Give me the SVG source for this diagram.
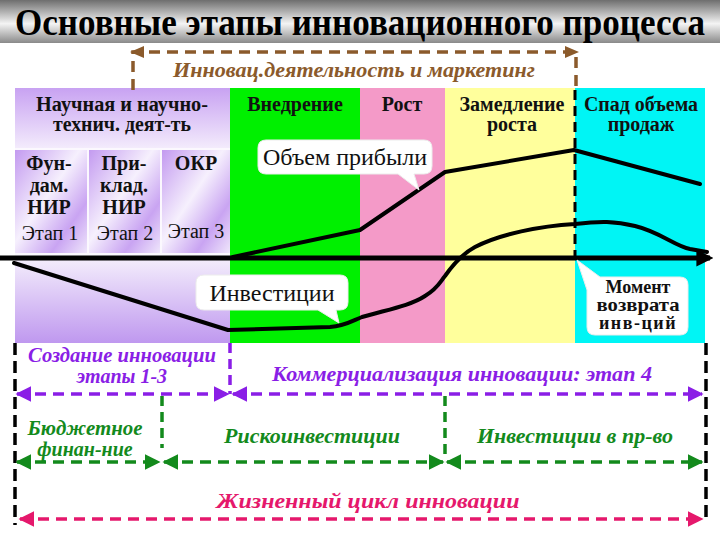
<svg xmlns="http://www.w3.org/2000/svg" width="720" height="540" viewBox="0 0 720 540">
<defs>
<linearGradient id="titleG" x1="0" y1="0" x2="0" y2="1">
<stop offset="0" stop-color="#6e6e6e"/>
<stop offset="0.55" stop-color="#f4f4f4"/>
<stop offset="1" stop-color="#8a8a8a"/>
</linearGradient>
<linearGradient id="purHead" x1="0" y1="0" x2="0" y2="1">
<stop offset="0" stop-color="#c8a2f2"/>
<stop offset="1" stop-color="#f3ebfc"/>
</linearGradient>
<linearGradient id="purLow" x1="0" y1="0" x2="0" y2="1">
<stop offset="0" stop-color="#f4eefc"/>
<stop offset="1" stop-color="#bf98ef"/>
</linearGradient>
<linearGradient id="purBox" x1="0" y1="0" x2="1" y2="1">
<stop offset="0" stop-color="#c39af0"/>
<stop offset="0.45" stop-color="#f6f0fd"/>
<stop offset="0.75" stop-color="#c9a4f2"/>
<stop offset="1" stop-color="#efe6fb"/>
</linearGradient>
<marker id="mPur" viewBox="0 0 10 10" refX="9" refY="5" markerWidth="4.5" markerHeight="4.5" orient="auto-start-reverse"><path d="M0 0L10 5L0 10z" fill="#8a1ee6"/></marker>
<marker id="mGrn" viewBox="0 0 10 10" refX="9" refY="5" markerWidth="4.5" markerHeight="4.5" orient="auto-start-reverse"><path d="M0 0L10 5L0 10z" fill="#138a1c"/></marker>
<marker id="mPink" viewBox="0 0 10 10" refX="9" refY="5" markerWidth="4.5" markerHeight="4.5" orient="auto-start-reverse"><path d="M0 0L10 5L0 10z" fill="#e5186c"/></marker>
<marker id="mBlk" viewBox="0 0 10 10" refX="8" refY="5" markerWidth="3.4" markerHeight="3.4" orient="auto"><path d="M0 0L10 5L0 10z" fill="#000"/></marker>
</defs>
<style>
text{font-family:"Liberation Serif","Times New Roman",serif}
.hd{font-weight:bold;font-size:20px;fill:#111;text-anchor:middle}
.st{font-size:20px;fill:#111;text-anchor:middle}
.bs{font-weight:bold;font-size:20px;fill:#111;text-anchor:middle}
.mo{font-weight:bold;font-size:18px;fill:#111;text-anchor:middle}
.ca{font-size:24px;fill:#111;text-anchor:middle}
.it{font-style:italic;font-weight:bold;font-size:20px;text-anchor:middle}
.call{fill:#fff;stroke:#ececec;stroke-width:1}
.dsh{fill:none;stroke-width:3.5;stroke-dasharray:11 7}
.curve{fill:none;stroke:#000;stroke-width:4;stroke-linejoin:round;stroke-linecap:round}
</style>
<rect width="720" height="540" fill="#fff"/>
<g id="title">
<rect x="0" y="0" width="720" height="43" fill="url(#titleG)"/>
<text transform="translate(360,35) scale(1,1.2)" x="0" y="0" font-weight="bold" font-size="32" text-anchor="middle" textLength="690" lengthAdjust="spacingAndGlyphs" fill="#000">Основные этапы инновационного процесса</text>
</g>
<g id="columns">
<rect x="15" y="88" width="215" height="60" fill="url(#purHead)"/>
<rect x="15" y="148" width="215" height="110" fill="#fbf8fe"/>
<rect x="15" y="150" width="72" height="103" fill="url(#purBox)"/>
<rect x="89" y="150" width="71" height="103" fill="url(#purBox)"/>
<rect x="162" y="150" width="68" height="103" fill="url(#purBox)"/>
<rect x="15" y="258" width="215" height="85" fill="url(#purLow)"/>
<rect x="230" y="88" width="130" height="255" fill="#00f000"/>
<rect x="360" y="88" width="85" height="255" fill="#f49ac8"/>
<rect x="445" y="88" width="130" height="255" fill="#ffff9c"/>
<rect x="575" y="88" width="130" height="255" fill="#00f5f5"/>
</g>
<g id="labels">
<text class="hd" x="122" y="111" textLength="172" lengthAdjust="spacingAndGlyphs">Научная и научно-</text>
<text class="hd" x="122" y="131" textLength="138" lengthAdjust="spacingAndGlyphs">технич. деят-ть</text>
<text class="hd" x="295" y="111">Внедрение</text>
<text class="hd" x="402" y="111">Рост</text>
<text class="hd" x="512" y="111">Замедление</text>
<text class="hd" x="512" y="131">роста</text>
<text class="hd" x="641" y="111" textLength="114" lengthAdjust="spacingAndGlyphs">Спад объема</text>
<text class="hd" x="641" y="131">продаж</text>
<text class="bs" x="49" y="170">Фун-</text>
<text class="bs" x="49" y="192">дам.</text>
<text class="bs" x="49" y="214">НИР</text>
<text class="st" x="50" y="240">Этап 1</text>
<text class="bs" x="124" y="170">При-</text>
<text class="bs" x="124" y="192">клад.</text>
<text class="bs" x="124" y="214">НИР</text>
<text class="st" x="125" y="240">Этап 2</text>
<text class="bs" x="196" y="170">ОКР</text>
<text class="st" x="196" y="238">Этап 3</text>
</g>
<g id="connectors">
<path class="dsh" d="M133 90V52H576V90" stroke="#8b5a2b" stroke-dasharray="10 6"/>
<path d="M130 52L144 46V58Z M579 52L565 46V58Z" fill="#8b5a2b"/>
<line x1="575" y1="90" x2="575" y2="258" stroke="#000" stroke-width="3" stroke-dasharray="10 6"/>
<line x1="0" y1="258" x2="710" y2="258" stroke="#000" stroke-width="5" marker-end="url(#mBlk)"/>
<polyline class="curve" points="233,257 360,230 445,172 574,150 700,184"/>
<path class="curve" d="M14,263 L228,330 L330,327 C345,326 352,321 362,317 C385,310 410,306 425,296 C438,288 440,282 445,276 C452,266 462,254 475,247 C500,234 540,226 575,224 C600,221 615,221 635,226 C660,232 675,246 690,249 L707,252"/>
<line x1="15" y1="343" x2="15" y2="525" stroke="#000" stroke-width="3.5" stroke-dasharray="12 6"/>
<line x1="706" y1="343" x2="706" y2="522" stroke="#000" stroke-width="3.5" stroke-dasharray="12 6"/>
<line x1="230" y1="343" x2="230" y2="394" stroke="#8a1ee6" stroke-width="3.5" stroke-dasharray="10 6"/>
<line class="dsh" x1="17" y1="394" x2="228" y2="394" stroke="#8a1ee6" marker-start="url(#mPur)" marker-end="url(#mPur)"/>
<line class="dsh" x1="233" y1="394" x2="702" y2="394" stroke="#8a1ee6" marker-start="url(#mPur)" marker-end="url(#mPur)"/>
<line x1="162" y1="396" x2="162" y2="448" stroke="#138a1c" stroke-width="3.5" stroke-dasharray="10 6"/>
<line x1="445" y1="396" x2="445" y2="460" stroke="#138a1c" stroke-width="3.5" stroke-dasharray="10 6"/>
<line class="dsh" x1="17" y1="462" x2="159" y2="462" stroke="#138a1c" marker-start="url(#mGrn)" marker-end="url(#mGrn)"/>
<line class="dsh" x1="164" y1="462" x2="443" y2="462" stroke="#138a1c" marker-start="url(#mGrn)" marker-end="url(#mGrn)"/>
<line class="dsh" x1="447" y1="462" x2="702" y2="462" stroke="#138a1c" marker-start="url(#mGrn)" marker-end="url(#mGrn)"/>
<line class="dsh" x1="20" y1="519" x2="702" y2="519" stroke="#e5186c" marker-start="url(#mPink)" marker-end="url(#mPink)"/>
</g>
<g id="callout-profit">
<path class="call" d="M266 140H424Q432 140 432 148V166Q432 174 424 174H414L419 190L398 174H266Q258 174 258 166V148Q258 140 266 140Z"/>
<text class="ca" x="345" y="165">Объем прибыли</text>
</g>
<g id="callout-invest">
<path class="call" d="M204 275H340Q348 275 348 283V302Q348 310 340 310H336L339 323L318 310H204Q196 310 196 302V283Q196 275 204 275Z"/>
<text class="ca" x="272" y="301">Инвестиции</text>
</g>
<g id="callout-return">
<path class="call" d="M609 277H680Q688 277 688 285V327Q688 335 680 335H595Q587 335 587 327V290L577 260L600 277Z"/>
<text class="mo" x="638" y="293">Момент</text>
<text class="mo" x="638" y="311" textLength="83" lengthAdjust="spacingAndGlyphs">возврата</text>
<text class="mo" x="638" y="329" letter-spacing="1.5">инв-ций</text>
</g>
<g id="span-labels">
<text class="it" x="354" y="77" fill="#8b5a2b" font-weight="normal" textLength="362" lengthAdjust="spacingAndGlyphs">Инновац.деятельность и маркетинг</text>
<text class="it" x="122" y="362" fill="#8a1ee6" textLength="188" lengthAdjust="spacingAndGlyphs">Создание инновации</text>
<text class="it" x="122" y="383" fill="#8a1ee6">этапы 1-3</text>
<text class="it" x="462" y="381" fill="#8a1ee6" textLength="380" lengthAdjust="spacingAndGlyphs">Коммерциализация инновации: этап 4</text>
<text class="it" x="85" y="435" fill="#138a1c" textLength="115" lengthAdjust="spacingAndGlyphs">Бюджетное</text>
<text class="it" x="85" y="456" fill="#138a1c">финан-ние</text>
<text class="it" x="312" y="443" fill="#138a1c" textLength="176" lengthAdjust="spacingAndGlyphs">Рискоинвестиции</text>
<text class="it" x="575" y="443" fill="#138a1c" textLength="196" lengthAdjust="spacingAndGlyphs">Инвестиции в пр-во</text>
<text class="it" x="368" y="508" fill="#e5186c" font-size="23" textLength="303" lengthAdjust="spacingAndGlyphs">Жизненный цикл инновации</text>
</g>
</svg>
